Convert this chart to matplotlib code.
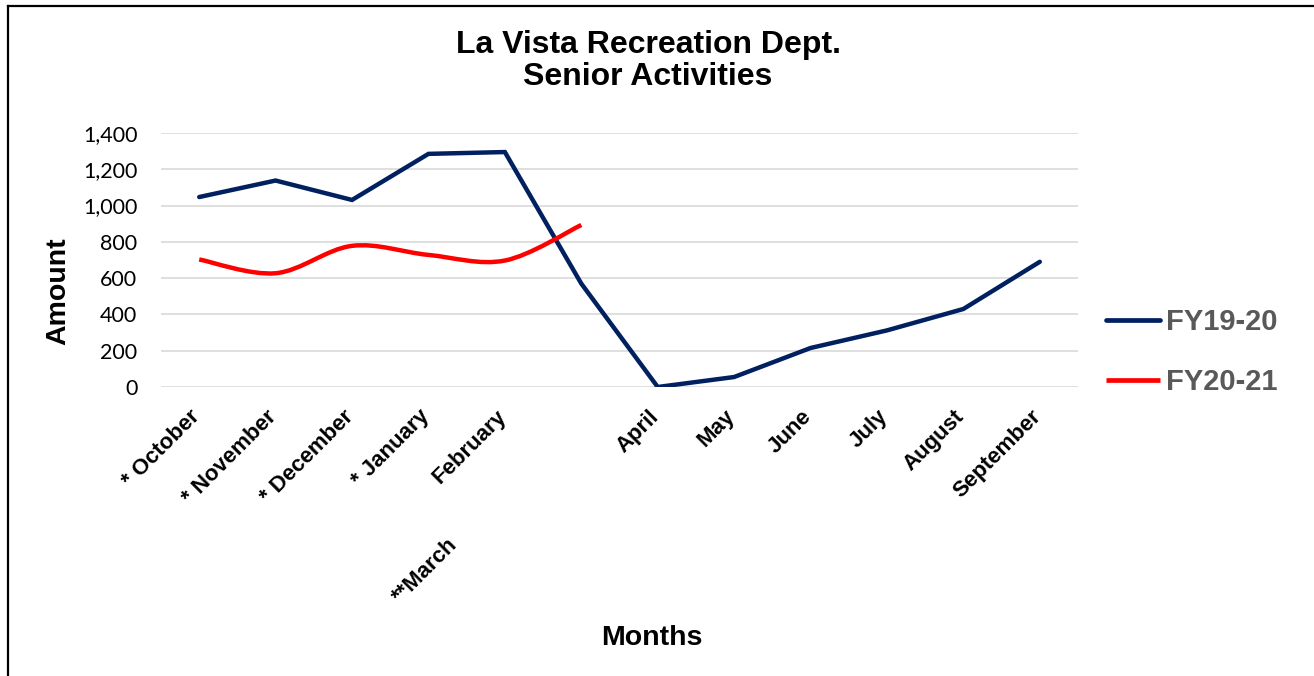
import matplotlib
matplotlib.use("Agg")
import matplotlib.pyplot as plt
from matplotlib.path import Path
from matplotlib.patches import PathPatch
from matplotlib.lines import Line2D
from matplotlib.transforms import ScaledTranslation

months = ["* October", "* November", "* December", "* January", "February", "**March",
          "April", "May", "June", "July", "August", "September"]
fy1920 = [1047, 1138, 1031, 1285, 1295, 570, 0, 55, 215, 312, 430, 690]
fy2021 = [703, 627, 778, 728, 697, 893]
series_names = ["FY19-20", "FY20-21"]
yticks = [0, 200, 400, 600, 800, 1000, 1200, 1400]

NAVY = "#002060"
RED = "#FF0000"

W, H = 1314, 676
fig = plt.figure(figsize=(W / 100, H / 100), dpi=100)
fig.patch.set_facecolor("white")

L, R, T, B = 161, 1078, 133, 387
ax = fig.add_axes([L / W, 1 - B / H, (R - L) / W, (B - T) / H])
ax.set_xlim(-0.5, len(months) - 0.5)
ax.set_ylim(0, 1400)
for s in ax.spines.values():
    s.set_visible(False)
ax.set_yticks(yticks)
ax.set_yticklabels([f"{v:,}" for v in yticks], fontsize=15.5, family="Lato")
ax.yaxis.grid(True, color="#D9D9D9", linewidth=1.2)
ax.set_axisbelow(True)
ax.tick_params(axis="both", length=0)
ax.tick_params(axis="y", pad=17)

x1 = list(range(len(fy1920)))
ax.plot(x1, fy1920, color=NAVY, lw=3.2, solid_capstyle="round", solid_joinstyle="miter", zorder=3)

# smoothed line (Excel-style Catmull-Rom Bezier)
x2 = list(range(len(fy2021)))
pts = list(zip(x2, fy2021))
verts = [pts[0]]
codes = [Path.MOVETO]
n = len(pts)
for i in range(n - 1):
    p0 = pts[i - 1] if i > 0 else pts[i]
    p1 = pts[i]
    p2 = pts[i + 1]
    p3 = pts[i + 2] if i + 2 < n else pts[i + 1]
    c1 = (p1[0] + (p2[0] - p0[0]) / 6, p1[1] + (p2[1] - p0[1]) / 6)
    c2 = (p2[0] - (p3[0] - p1[0]) / 6, p2[1] - (p3[1] - p1[1]) / 6)
    verts += [c1, c2, p2]
    codes += [Path.CURVE4] * 3
patch = PathPatch(Path(verts, codes), facecolor="none", edgecolor=RED, lw=3.2,
                  capstyle="butt", zorder=4)
ax.add_patch(patch)

ax.set_xticks(range(len(months)))
ax.set_xticklabels(months, rotation=45, ha="right", va="center", rotation_mode="anchor",
                   fontsize=16, fontweight="bold", family="Liberation Sans")
ax.tick_params(axis="x", pad=19)
for lab in ax.get_xticklabels():
    lab.set_transform(lab.get_transform() + ScaledTranslation(-0.02, 0, fig.dpi_scale_trans))
    if lab.get_text().startswith("**"):
        lab.set_transform(lab.get_transform() + ScaledTranslation(-1.25, -1.28, fig.dpi_scale_trans))

fig.text(648 / W, 1 - 30 / H, "La Vista Recreation Dept.\nSenior Activities", ha="center", va="top",
         fontsize=23, fontweight="bold", family="Liberation Sans", linespacing=1.1)
fig.text(652 / W, 1 - 638 / H, "Months", ha="center", va="center",
         fontsize=20.5, fontweight="bold", family="Liberation Sans")
fig.text(58 / W, 1 - 291 / H, "Amount", ha="center", va="center", rotation=90,
         fontsize=20.5, fontweight="bold", family="Liberation Sans")

handles = [Line2D([], [], color=NAVY, lw=3.4, solid_capstyle="round"),
           Line2D([], [], color=RED, lw=3.4, solid_capstyle="butt")]
leg = fig.legend(handles, series_names, loc="center left", bbox_to_anchor=(1106 / W, 1 - 352 / H),
                 frameon=False, borderpad=0, borderaxespad=0, handlelength=1.85, handletextpad=0.2,
                 labelspacing=1.1, prop={"family": "Liberation Sans", "weight": "bold", "size": 21})
for t in leg.get_texts():
    t.set_color("#595959")

# outer frame (top and left edges)
fig.add_artist(Line2D([8 / W, 1], [1 - 6 / H, 1 - 6 / H], transform=fig.transFigure, color="black", lw=1.6))
fig.add_artist(Line2D([8 / W, 8 / W], [0, 1 - 6 / H], transform=fig.transFigure, color="black", lw=1.6))

fig.savefig("out.png", dpi=100, facecolor="white")
